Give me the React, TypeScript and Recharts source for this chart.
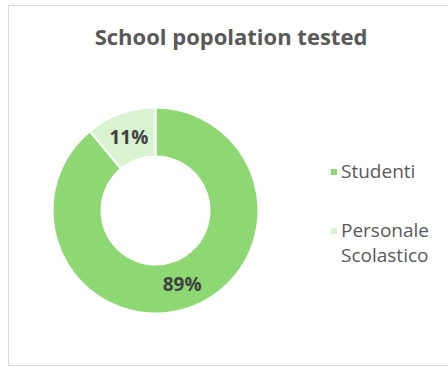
import { PieChart, Pie, Cell, Legend } from "recharts"

const categories = ["Studenti", "Personale Scolastico"]
const values = [89, 11]
const labels = ["89%", "11%"]
const colors = ["#8ed873", "#d9f2d0"]

const data = categories.map((name, i) => ({ name, value: values[i], label: labels[i] }))

const RADIAN = Math.PI / 180

const renderLabel = (props: any) => {
  const { cx, cy, midAngle, innerRadius, outerRadius, index } = props
  const r = (innerRadius + outerRadius) / 2
  const x = cx + r * Math.cos(-midAngle * RADIAN)
  const y = cy + r * Math.sin(-midAngle * RADIAN)
  return (
    <text x={x} y={y} fill="#404040" textAnchor="middle" dominantBaseline="central"
      fontSize={19} fontWeight={700} fontFamily="'Open Sans', sans-serif">
      {data[index].label}
    </text>
  )
}

const renderLegend = () => (
  <div style={{ fontFamily: "'Open Sans', sans-serif", fontSize: 19, color: "#595959" }}>
    {data.map((d, i) => (
      <div key={d.name} style={{ display: "flex", alignItems: "flex-start", marginBottom: 34 }}>
        <span style={{ width: 6, height: 6, background: colors[i], marginTop: 10, marginRight: 4, flexShrink: 0 }} />
        <span style={{ width: 112, lineHeight: "25px" }}>{d.name}</span>
      </div>
    ))}
  </div>
)

export default function App() {
  return (
    <div style={{ position: "absolute", left: 0, top: 0, width: 448, height: 367, background: "#fff", overflow: "hidden" }}>
      <div style={{ position: "absolute", left: 8, top: 5, width: 460, height: 361, border: "1px solid #d9d9d9", boxSizing: "border-box" }} />
      <div style={{ position: "absolute", left: 0, top: 21, width: 462, textAlign: "center", fontFamily: "'Open Sans', sans-serif", fontWeight: 700, fontSize: 22, color: "#595959" }}>
        School popolation tested
      </div>
      <PieChart width={448} height={367} margin={{ top: 0, right: 0, bottom: 0, left: 0 }} style={{ position: "absolute", left: 0, top: 0 }}>
        <Pie
          data={data}
          dataKey="value"
          cx={155.5}
          cy={210.5}
          innerRadius={54}
          outerRadius={103}
          startAngle={90}
          endAngle={-270}
          stroke="#ffffff"
          strokeWidth={2}
          label={renderLabel}
          labelLine={false}
          isAnimationActive={false}
        >
          {data.map((d, i) => <Cell key={d.name} fill={colors[i]} />)}
        </Pie>
        <Legend content={renderLegend} wrapperStyle={{ position: "absolute", left: 331, top: 159, width: 125 }} />
      </PieChart>
    </div>
  )
}
